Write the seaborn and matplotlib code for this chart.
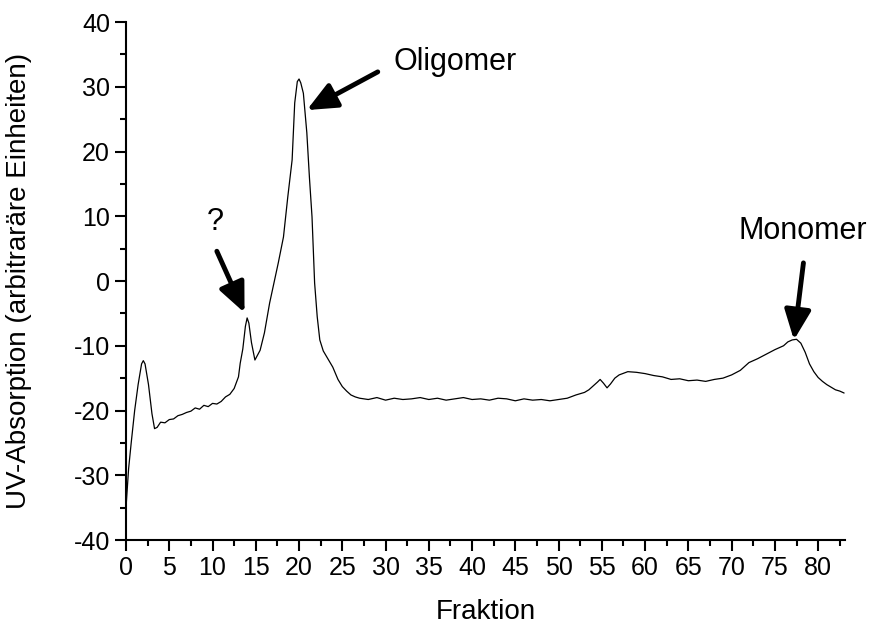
"""
UV-Absorption elution profile (Oligomer / Monomer)
"""
import pandas as pd
import seaborn as sns
import matplotlib.pyplot as plt
from matplotlib.ticker import MultipleLocator

# Elution trace
fraktion = [0, 0.3, 0.6, 1.0, 1.4, 1.8, 2.0, 2.2, 2.6, 3.0, 3.3, 3.6, 4.0, 4.5, 5, 5.5, 6, 6.5,
            7, 7.5, 8, 8.5, 9, 9.5, 10, 10.5, 11, 11.5, 12, 12.5, 13, 13.2, 13.5, 13.8, 14.0,
            14.2, 14.5, 14.9, 15.5, 16.0, 16.6, 17.1, 17.6, 18.2, 18.7, 19.2, 19.5, 19.8, 20.0,
            20.2, 20.5, 20.9, 21.2, 21.5, 21.8, 22.1, 22.4, 22.8, 23.2, 23.9, 24.5, 25, 25.5,
            26, 26.5, 27, 28, 29, 30, 31, 32, 33, 34, 35, 36, 37, 38, 39, 40, 41, 42, 43, 44,
            45, 46, 47, 48, 49, 50, 51, 52, 53, 53.5, 54, 54.5, 54.8, 55.2, 55.6, 56, 56.5, 57,
            58, 59, 60, 61, 62, 63, 64, 65, 66, 67, 68, 69, 70, 71, 72, 73, 74, 75, 76, 76.5,
            77, 77.5, 78, 78.5, 79, 79.5, 80, 80.5, 81, 81.5, 82, 82.5, 83]
absorption = [-35, -29, -25, -20, -16, -12.8, -12.3, -12.8, -16, -20.5, -22.8, -22.6, -21.8,
              -21.9, -21.4, -21.3, -20.8, -20.6, -20.3, -20.1, -19.6, -19.8, -19.2, -19.4,
              -18.9, -19.0, -18.6, -17.9, -17.5, -16.6, -14.8, -12.7, -10.5, -7.0, -5.7,
              -6.5, -9.5, -12.2, -10.7, -8.0, -3.4, -0.3, 2.8, 6.8, 13, 18.7, 27.5, 30.8, 31.2,
              30.6, 29, 22.9, 16, 9.9, -0.3, -5.5, -9.1, -10.8, -11.7, -13.3, -15.2, -16.3,
              -17.0, -17.6, -17.9, -18.1, -18.3, -18.0, -18.4, -18.1, -18.3, -18.2, -18.0,
              -18.3, -18.1, -18.4, -18.2, -18.0, -18.3, -18.2, -18.4, -18.1, -18.2, -18.5,
              -18.2, -18.4, -18.3, -18.5, -18.3, -18.1, -17.6, -17.2, -16.8, -16.2, -15.6,
              -15.2, -15.8, -16.5, -15.9, -15.0, -14.5, -14.0, -14.1, -14.3, -14.6, -14.8,
              -15.2, -15.1, -15.4, -15.3, -15.5, -15.2, -15.0, -14.5, -13.8, -12.6, -12.0,
              -11.3, -10.6, -10.0, -9.4, -9.1, -9.0, -9.6, -11.0, -12.8, -14.0, -14.9, -15.5,
              -16.0, -16.4, -16.8, -17.0, -17.3]

labels = ['?', 'Oligomer', 'Monomer']
label_pos = [(10.3, 9.1), (38.0, 33.8), (78.2, 7.7)]
arrow_tail = [(10.5, 4.6), (29.1, 32.3), (78.3, 2.8)]
arrow_tip = [(13.7, -4.9), (20.9, 26.4), (77.2, -9.1)]

df = pd.DataFrame({'Fraktion': fraktion, 'UV': absorption})

sns.set_style('ticks')
plt.rcParams['font.family'] = ['Liberation Sans', 'DejaVu Sans']
plt.rcParams['axes.unicode_minus'] = False
plt.rcParams['text.color'] = 'black'
plt.rcParams['axes.labelcolor'] = 'black'

fig = plt.figure(figsize=(8.72, 6.24), dpi=100)
ax = fig.add_axes([0.1445, 0.1346, 0.8245, 0.8301])

sns.lineplot(data=df, x='Fraktion', y='UV', color='black', linewidth=0.9,
             estimator=None, sort=False, ax=ax)

for txt, pos, tail, tip in zip(labels, label_pos, arrow_tail, arrow_tip):
    ax.text(pos[0], pos[1], txt, fontsize=22, ha='center', va='center', color='black')
    ax.annotate('', xy=tip, xytext=tail,
                arrowprops=dict(arrowstyle='-|>,head_length=0.9,head_width=0.4',
                                lw=3.5, color='black', shrinkA=0, shrinkB=0,
                                mutation_scale=20))

ax.set_xlim(0, 83.1)
ax.set_ylim(-40, 40)
ax.xaxis.set_major_locator(MultipleLocator(5))
ax.xaxis.set_minor_locator(MultipleLocator(2.5))
ax.yaxis.set_major_locator(MultipleLocator(10))
ax.yaxis.set_minor_locator(MultipleLocator(5))
ax.tick_params(which='major', direction='out', length=8, width=1.5, labelsize=18, colors='black')
ax.tick_params(which='minor', direction='out', length=4.5, width=1.5, colors='black')
for s in ['left', 'bottom']:
    ax.spines[s].set_linewidth(1.5)
    ax.spines[s].set_color('black')
sns.despine(ax=ax)

ax.set_xlabel('Fraktion', fontsize=20, labelpad=14)
ax.set_ylabel('UV-Absorption (arbitraräre Einheiten)', fontsize=20, labelpad=30)

fig.savefig('out.png', dpi=100)
